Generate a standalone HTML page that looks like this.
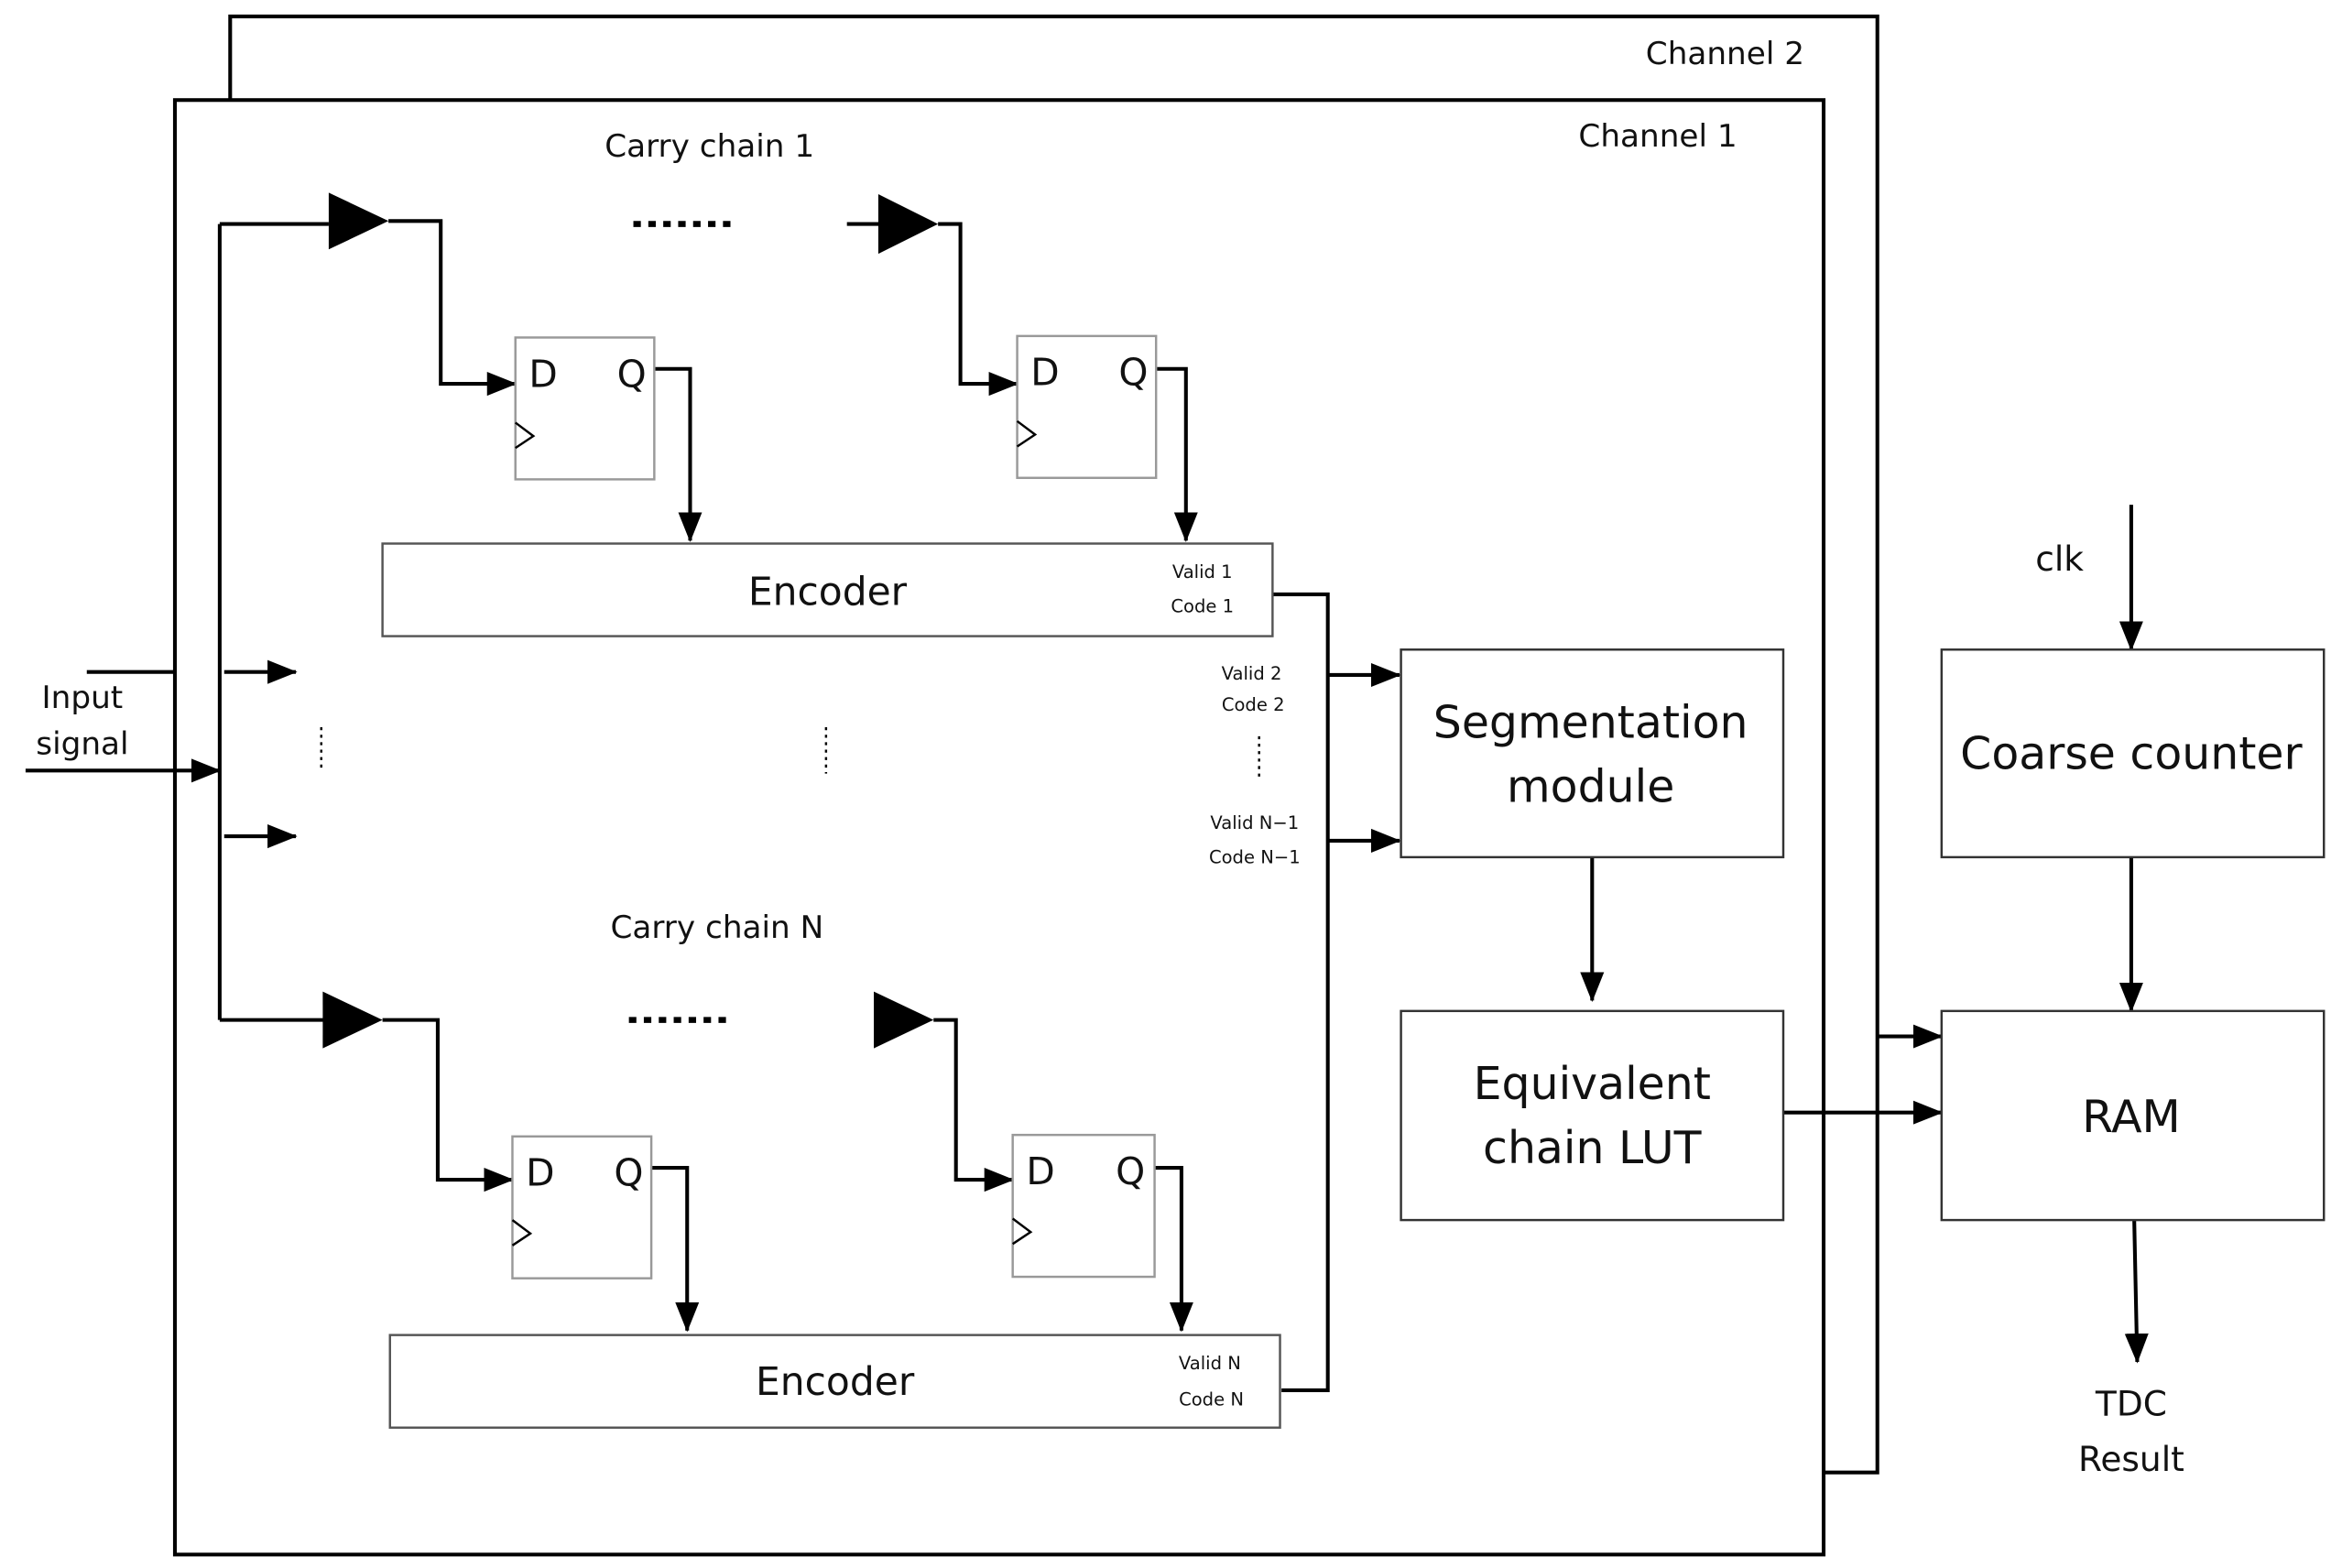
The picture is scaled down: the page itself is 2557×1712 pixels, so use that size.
<!DOCTYPE html>
<html><head><meta charset="utf-8"><style>
html,body{margin:0;padding:0;background:#fff}
svg{display:block}
text{font-family:"DejaVu Sans","Liberation Sans",sans-serif;fill:#111}
</style></head><body>
<svg width="2557" height="1712" viewBox="0 0 1568 1050" xmlns="http://www.w3.org/2000/svg">
<defs>
<marker id="a" markerWidth="10" markerHeight="10" refX="9" refY="5" orient="auto" markerUnits="userSpaceOnUse" viewBox="0 0 10 10">
<path d="M0,0 L10,5 L0,10 z" fill="#000"/></marker>
<marker id="b" markerWidth="20" markerHeight="20" refX="19" refY="10" orient="auto" markerUnits="userSpaceOnUse" viewBox="0 0 20 20">
<path d="M0,2 L20,10 L0,18 z" fill="#000"/></marker>
</defs>
<g fill="none" stroke="#000" stroke-width="2.5">
<path d="M154,66 V11 H1257 V986 H1221"/>
<rect x="117" y="67" width="1104" height="974"/>
</g>
<text x="1155" y="43" font-size="21" text-anchor="middle">Channel 2</text>
<text x="1110" y="98" font-size="21" text-anchor="middle">Channel 1</text>
<text x="475" y="105" font-size="21" text-anchor="middle">Carry chain 1</text>
<text x="480" y="628" font-size="21" text-anchor="middle">Carry chain N</text>

<g fill="none" stroke="#000" stroke-width="2.5">
<!-- input -->
<path d="M58,450 H117"/>
<path d="M17,516 H147" marker-end="url(#b)"/>
<path d="M147,150 V683"/>
<path d="M147,150 H220"/>
<path d="M147,683 H218"/>
<path d="M150,450 H198" marker-end="url(#b)"/>
<path d="M150,560 H198" marker-end="url(#b)"/>
<!-- chain1 -->
<path d="M260,148 H295 V257 H345" marker-end="url(#b)"/>
<path d="M567,150 H590"/>
<path d="M628,150 H643 V257 H681" marker-end="url(#b)"/>
<path d="M438,247 H462 V362" marker-end="url(#b)"/>
<path d="M774,247 H794 V362" marker-end="url(#b)"/>
<!-- chainN -->
<path d="M256,683 H293 V790 H343" marker-end="url(#b)"/>
<path d="M625,683 H640 V790 H678" marker-end="url(#b)"/>
<path d="M436,782 H460 V891" marker-end="url(#b)"/>
<path d="M773,782 H791 V891" marker-end="url(#b)"/>
<!-- bus -->
<path d="M852,398 H889 V931 H858"/>
<path d="M889,452 H937" marker-end="url(#b)"/>
<path d="M889,563 H937" marker-end="url(#b)"/>
<path d="M1066,574 V670" marker-end="url(#b)"/>
<path d="M1194,745 H1300" marker-end="url(#b)"/>
<path d="M1257,694 H1300" marker-end="url(#b)"/>
<path d="M1427,338 V435" marker-end="url(#b)"/>
<path d="M1427,574 V677" marker-end="url(#b)"/>
<path d="M1429,817 L1431,912" marker-end="url(#b)"/>
</g>
<g fill="#000">
<path d="M220,129 L260,148 L220,167z"/>
<path d="M588,130 L628,150 L588,170z"/>
<path d="M216,664 L256,683 L216,702z"/>
<path d="M585,664 L625,683 L585,702z"/>
</g>
<g stroke="#000" stroke-width="4" stroke-dasharray="5,5">
<path d="M424,150 H490"/>
<path d="M421,683 H487"/>
</g>
<g stroke="#000" stroke-width="1.5" stroke-dasharray="2,3">
<path d="M215,487 V516"/>
<path d="M553,487 V518"/>
<path d="M843,493 V522"/>
</g>
<!-- FFs -->
<g fill="#fff" stroke="#999" stroke-width="1.5">
<rect x="345" y="226" width="93" height="95"/>
<rect x="681" y="225" width="93" height="95"/>
<rect x="343" y="761" width="93" height="95"/>
<rect x="678" y="760" width="95" height="95"/>
</g>
<g fill="none" stroke="#000" stroke-width="1.5">
<path d="M345,283 L357,292 L345,300"/>
<path d="M681,282 L693,291 L681,299"/>
<path d="M343,817 L355,826 L343,834"/>
<path d="M678,816 L690,825 L678,833"/>
</g>
<g font-size="25">
<text x="354" y="259">D</text><text x="413" y="259">Q</text>
<text x="690" y="258">D</text><text x="749" y="258">Q</text>
<text x="352" y="794">D</text><text x="411" y="794">Q</text>
<text x="687" y="793">D</text><text x="747" y="793">Q</text>
</g>
<!-- encoders -->
<g fill="#fff" stroke="#555" stroke-width="1.5">
<rect x="256" y="364" width="596" height="62"/>
<rect x="261" y="894" width="596" height="62"/>
</g>
<text x="554" y="405" font-size="26" text-anchor="middle">Encoder</text>
<text x="559" y="934" font-size="26" text-anchor="middle">Encoder</text>
<g font-size="12" text-anchor="middle">
<text x="805" y="387">Valid 1</text><text x="805" y="410">Code 1</text>
<text x="810" y="917">Valid N</text><text x="811" y="941">Code N</text>
<text x="838" y="455">Valid 2</text><text x="839" y="476">Code 2</text>
<text x="840" y="555">Valid N−1</text><text x="840" y="578">Code N−1</text>
</g>
<!-- right blocks -->
<g fill="#fff" stroke="#333" stroke-width="1.5">
<rect x="938" y="435" width="256" height="139"/>
<rect x="938" y="677" width="256" height="140"/>
<rect x="1300" y="435" width="256" height="139"/>
<rect x="1300" y="677" width="256" height="140"/>
</g>
<g font-size="30" text-anchor="middle">
<text x="1065" y="494">Segmentation</text><text x="1065" y="537">module</text>
<text x="1066" y="736">Equivalent</text><text x="1066" y="779">chain LUT</text>
<text x="1427" y="515">Coarse counter</text>
<text x="1427" y="758">RAM</text>
</g>
<g font-size="23" text-anchor="middle">
<text x="1379" y="382">clk</text>
<text x="1427" y="948">TDC</text><text x="1427" y="985">Result</text>
<text x="55" y="474" font-size="21">Input</text><text x="55" y="505" font-size="21">signal</text>
</g>
</svg>
</body></html>
